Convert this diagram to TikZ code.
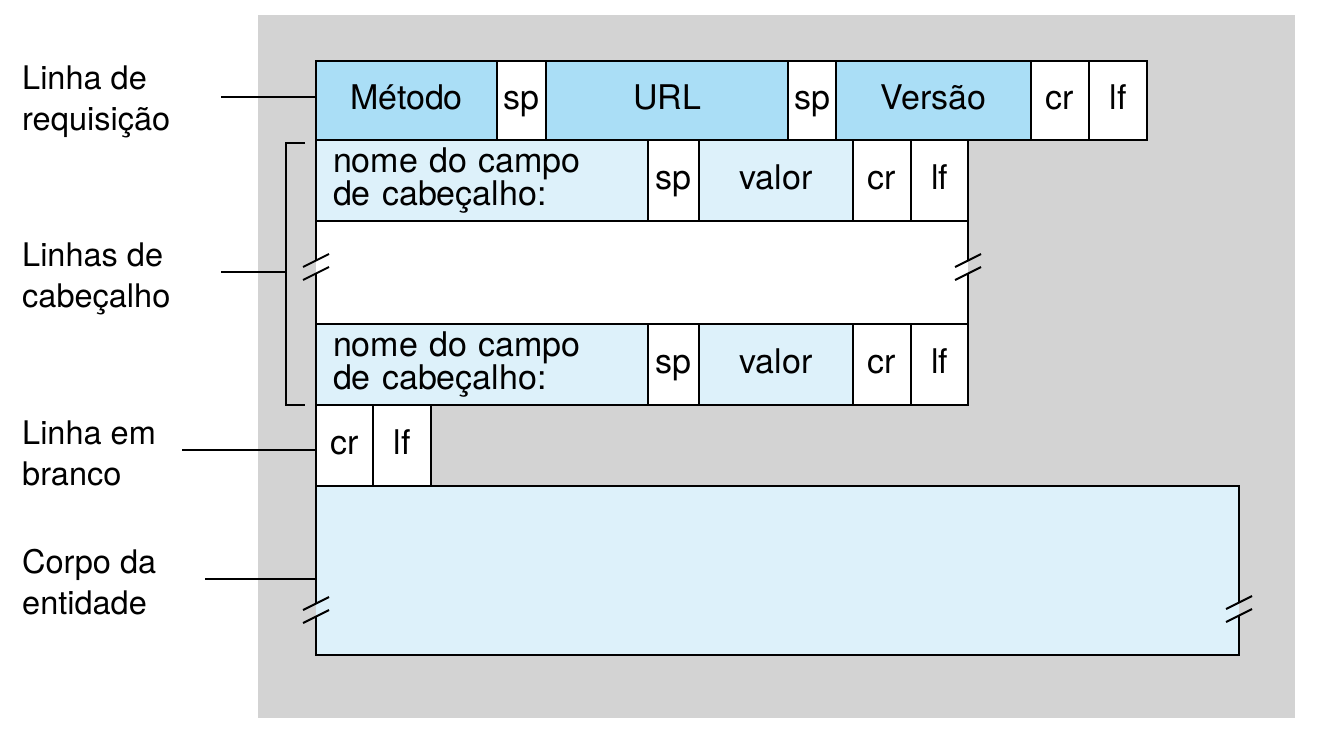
\documentclass[tikz,border=0pt]{standalone}
\usepackage{fontspec}
\setmainfont{TeX Gyre Heros}
\usetikzlibrary{positioning}
\definecolor{bggray}{RGB}{211,211,211}
\definecolor{reqblue}{RGB}{170,222,246}
\definecolor{hdrblue}{RGB}{221,241,250}

\begin{document}
\begin{tikzpicture}[x=1pt, y=-1pt, font=\fontsize{34}{40}\selectfont,
                    box/.style={draw, line width=2pt, fill=white, inner sep=0pt,
                                outer sep=0pt, minimum height=81pt},
                    cell/.style={box, text height=24pt, text depth=7pt},
                    namecell/.style={box, fill=hdrblue, text width=298pt,
                                     inner xsep=17pt, align=left,
                                     font=\fontsize{34}{33}\selectfont},
                    label/.style={align=left, anchor=base west, inner sep=0pt,
                                  font=\fontsize{32.5}{41}\selectfont},
                    leader/.style={line width=1.3pt},
                    breakline/.style={line width=2pt}]
    \useasboundingbox (0,0) rectangle (1319,752);
    \fill[bggray] (258,15) rectangle (1295,718);

    % linha de requisicao
    \node[cell, fill=reqblue, minimum width=181pt, minimum height=79pt,
          anchor=north west] (metodo) at (316,61) {Método};
    \node[cell, minimum width=49pt, minimum height=79pt, right=0pt of metodo]  (sp1) {sp};
    \node[cell, fill=reqblue, minimum width=242pt, minimum height=79pt,
          right=0pt of sp1] (url) {URL};
    \node[cell, minimum width=48pt, minimum height=79pt, right=0pt of url]     (sp2) {sp};
    \node[cell, fill=reqblue, minimum width=195pt, minimum height=79pt,
          right=0pt of sp2] (versao) {Versão};
    \node[cell, minimum width=58pt, minimum height=79pt, right=0pt of versao]  (cr1) {cr};
    \node[cell, minimum width=58pt, minimum height=79pt, right=0pt of cr1]     (lf1) {lf};

    % linhas de cabecalho
    \node[namecell, anchor=north west] (nome1) at (metodo.south west)
          {nome do campo\\de cabeçalho:};
    \node[cell, minimum width=51pt, right=0pt of nome1]                (sp3)    {sp};
    \node[cell, fill=hdrblue, minimum width=154pt, right=0pt of sp3]   (valor1) {valor};
    \node[cell, minimum width=58pt, right=0pt of valor1]               (cr2)    {cr};
    \node[cell, minimum width=57pt, right=0pt of cr2]                  (lf2)    {lf};

    \node[box, minimum width=652pt, minimum height=103pt, anchor=north west]
          (meio) at (nome1.south west) {};

    \node[namecell, anchor=north west] (nome2) at (meio.south west)
          {nome do campo\\de cabeçalho:};
    \node[cell, minimum width=51pt, right=0pt of nome2]                (sp4)    {sp};
    \node[cell, fill=hdrblue, minimum width=154pt, right=0pt of sp4]   (valor2) {valor};
    \node[cell, minimum width=58pt, right=0pt of valor2]               (cr3)    {cr};
    \node[cell, minimum width=57pt, right=0pt of cr3]                  (lf3)    {lf};

    % linha em branco e corpo
    \node[cell, minimum width=57pt, anchor=north west] (cr4) at (nome2.south west) {cr};
    \node[cell, minimum width=58pt, right=0pt of cr4]  (lf4) {lf};
    \node[box, fill=hdrblue, minimum width=923pt, minimum height=169pt,
          anchor=north west] (corpo) at (cr4.south west) {};

    % quebras
    \foreach \cx/\cy/\lc/\rc in {316/267/bggray/white, 968/267/white/bggray,
                                 316/610/bggray/hdrblue, 1239/609/hdrblue/bggray} {
        \fill[\lc] (\cx-2.5,\cy-5.25) -- (\cx,\cy-6.5) -- (\cx,\cy+6.5)
                   -- (\cx-2.5,\cy+7.75) -- cycle;
        \fill[\rc] (\cx,\cy-6.5) -- (\cx+2.5,\cy-7.75) -- (\cx+2.5,\cy+5.25)
                   -- (\cx,\cy+6.5) -- cycle;
        \draw[breakline] (\cx-13,\cy) -- (\cx+13,\cy-13);
        \draw[breakline] (\cx-13,\cy+13) -- (\cx+13,\cy);
    }

    % rotulos (base = ultima linha)
    \node[label] (lreq)    at (22,130) {Linha de\\requisição};
    \node[label] (lcab)    at (22,307) {Linhas de\\cabeçalho};
    \node[label] (lbranco) at (22,485) {Linha em\\branco};
    \node[label] (lcorpo)  at (22,614) {Corpo da\\entidade};

    \coordinate (req)    at (221,97);
    \coordinate (cab)    at (221,272);
    \coordinate (brtop)  at (305,143);
    \coordinate (brbot)  at (305,405);
    \coordinate (branco) at (182,450);
    \coordinate (ent)    at (205,579);

    \draw[leader] (req) -- (req -| metodo.west);
    \draw[leader] (brtop) -- ++(-19,0) |- (brbot);
    \draw[leader] (cab) -- (cab -| 286,0);
    \draw[leader] (branco) -- (branco -| cr4.west);
    \draw[leader] (ent) -- (ent -| corpo.west);
\end{tikzpicture}
\end{document}
